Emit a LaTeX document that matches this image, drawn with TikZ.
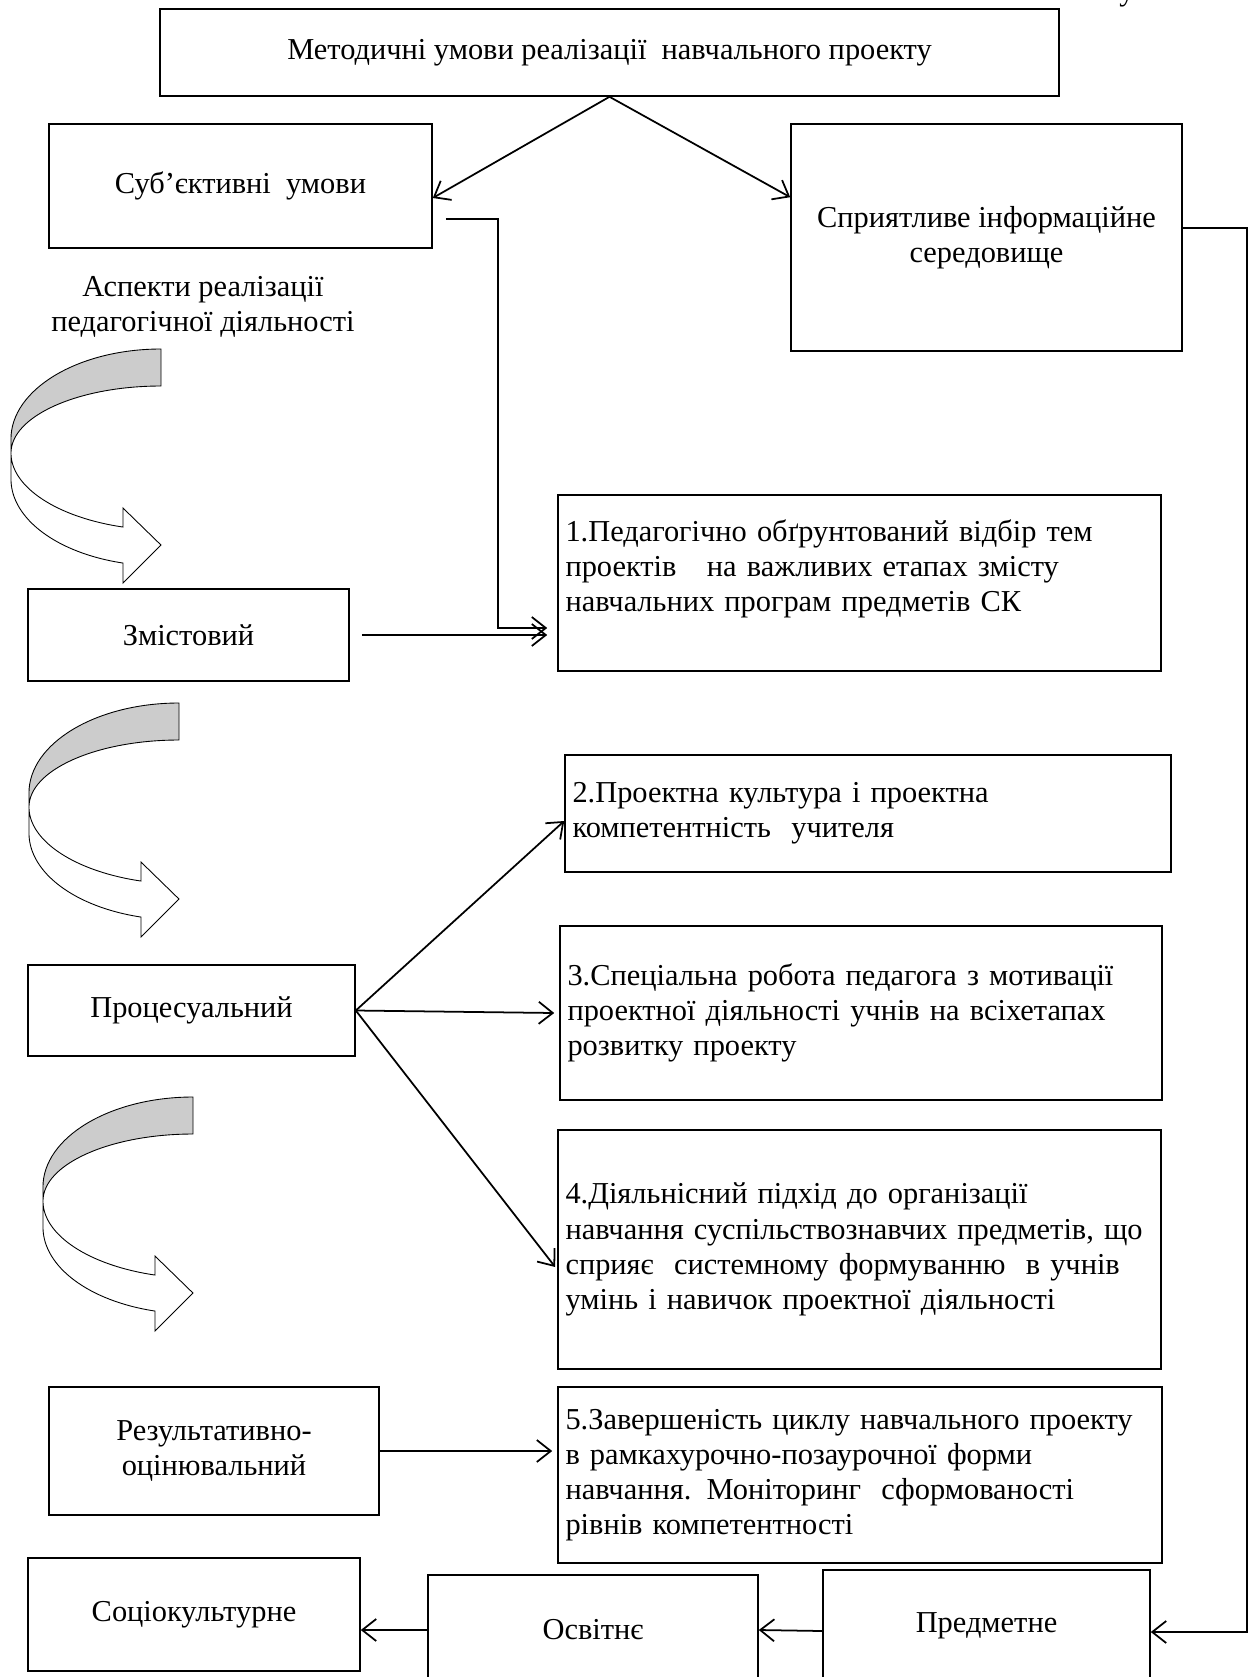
\documentclass[tikz,border=0pt]{standalone}
\usepackage{fontspec}
\setmainfont{Liberation Serif}
\usetikzlibrary{positioning, arrows.meta, calc}
\tikzset{
    box/.style={draw, rectangle, line width=0.9pt, align=center, inner sep=2pt},
    numbox/.style={draw, rectangle, line width=0.9pt, align=left, inner xsep=0.15cm, inner ysep=0pt},
    conn/.style={-{Straight Barb[length=2.8mm, width=4.4mm]}, line width=1pt},
    back/.style={draw, fill=gray!40, line width=0.5pt},
    front/.style={draw, fill=white, line width=0.5pt},
    turnarrow/.pic={
        \begin{scope}[x=0.02cm, y=-0.02cm]
        \path[back] (0,0) .. controls (-82.8,0) and (-150,40.3) .. (-150,90) -- (-150,104)
            .. controls (-150,67) and (-82.8,37) .. (0,37) -- cycle;
        \path[front] (-150,104) .. controls (-150,138.4) and (-103,168.5) .. (-38,178)
            -- (-38,159) -- (0,196) -- (-38,234) -- (-38,214)
            .. controls (-104,204) and (-150,169.6) .. (-150,130) -- cycle;
        \end{scope}
    },
}

\begin{document}
\begin{tikzpicture}[font=\fontsize{17.3}{20}\selectfont]
    \path[use as bounding box] (0,0) rectangle (24.98,-33.54);

    \node[anchor=base, inner sep=0pt] (kray) at (22.54,0) {у};

    \node[box, minimum width=17.98cm, minimum height=1.74cm] (umovy) at (12.19,-1.05) {Методичні умови реалізації~ навчального проекту};
    \node[box, minimum width=7.66cm, minimum height=2.48cm] (subj) at (4.81,-3.72) {Суб’єктивні~ умови};
    \node[box, minimum width=7.82cm, minimum height=4.54cm] (inform) at (19.73,-4.75) {Сприятливе інформаційне\\середовище};
    \node[align=center] (aspekt) at (4.06,-6.14) {Аспекти реалізації\\педагогічної діяльності};

    \pic (turn1) at (3.22,-6.98) {turnarrow};
    \pic (turn2) at (3.58,-14.06) {turnarrow};
    \pic (turn3) at (3.86,-21.94) {turnarrow};

    \node[box, minimum width=6.42cm, minimum height=1.84cm] (zmist) at (3.77,-12.70) {Змістовий};
    \node[box, minimum width=6.54cm, minimum height=1.82cm] (proc) at (3.83,-20.21) {Процесуальний};
    \node[box, minimum width=6.60cm, minimum height=2.56cm] (rezult) at (4.28,-29.02) {Результативно-\\оцінювальний};

    \node[numbox, text width=11.76cm, minimum height=3.52cm] (tema) at (17.19,-11.66)
        {1.Педагогічно обґрунтований відбір тем\\проектів~~ на важливих етапах змісту\\навчальних програм предметів СК\\\mbox{}};
    \node[numbox, text width=11.82cm, minimum height=2.34cm] (kultura) at (17.36,-16.27)
        {2.Проектна культура і проектна\\компетентність~ учителя};
    \node[numbox, text width=11.74cm, minimum height=3.48cm] (motiv) at (17.22,-20.26)
        {3.Спеціальна робота педагога з мотивації\\проектної діяльності учнів на всіхетапах\\розвитку проекту};
    \node[numbox, text width=11.76cm, minimum height=4.78cm] (pidkhid) at (17.19,-24.99)
        {4.Діяльнісний підхід до організації\\навчання суспільствознавчих предметів, що\\сприяє~ системному формуванню~ в учнів\\умінь і навичок проектної діяльності};
    \node[numbox, text width=11.78cm, minimum height=3.52cm] (cykl) at (17.20,-29.50)
        {5.Завершеність циклу навчального проекту\\в рамкахурочно-позаурочної форми\\навчання. Моніторинг~ сформованості\\рівнів компетентності};

    \node[box, minimum width=6.64cm, minimum height=2.26cm] (socio) at (3.88,-32.29) {Соціокультурне};
    \node[box, minimum width=6.60cm, minimum height=2.20cm] (osvit) at (11.86,-32.60) {Освітнє};
    \node[box, minimum width=6.54cm, minimum height=2.24cm] (predm) at (19.73,-32.52) {Предметне};

    \draw[conn] (umovy.south) -- ([yshift=-0.24cm]subj.east);
    \draw[conn] (umovy.south) -- ([yshift=-1.48cm]inform.north west);

    \draw[conn] ([xshift=0.26cm,yshift=-0.66cm]subj.east) -- ++(1.04,0) |- ([xshift=-0.2cm,yshift=-0.9cm]tema.west);
    \draw[conn] ([xshift=0.24cm]zmist.east) -- ([xshift=-0.2cm]tema.west |- zmist.east);

    \draw[conn] (proc.east) -- ([yshift=-0.15cm]kultura.west);
    \draw[conn] (proc.east) -- ([xshift=-0.1cm]motiv.west);
    \draw[conn] (proc.east) -- ([xshift=-0.04cm,yshift=-0.35cm]pidkhid.west);
    \draw[conn] (rezult.east) -- ([xshift=-0.1cm]cykl.west |- rezult.east);

    \draw[conn] ([yshift=0.19cm]inform.east) -- ++(1.28,0) |- ([yshift=-0.12cm]predm.east);
    \draw[conn] ([yshift=-0.1cm]predm.west) -- (osvit.east);
    \draw[conn] (osvit.west) -- (osvit.west -| socio.east);
\end{tikzpicture}
\end{document}
